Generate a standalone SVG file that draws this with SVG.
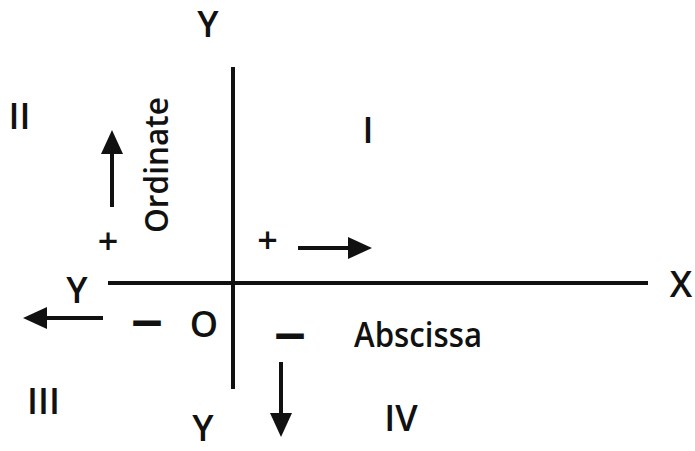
<svg xmlns="http://www.w3.org/2000/svg" width="695" height="451" viewBox="0 0 695 451">
<style>
.t{font-family:"Open Sans","DejaVu Sans",sans-serif;font-size:36px;font-weight:600;fill:#111;text-anchor:middle}
.w{font-family:"Open Sans","DejaVu Sans",sans-serif;font-weight:600;fill:#111}
.ax{stroke:#111;stroke-width:4;fill:none}
.ar{stroke:#111;stroke-width:4;fill:none;marker-end:url(#ah)}
</style>
<defs>
<marker id="ah" markerUnits="userSpaceOnUse" markerWidth="24" markerHeight="22" refX="4" refY="11" orient="auto">
<path d="M0,0 L24,11 L0,22 z" fill="#111"/>
</marker>
</defs>
<rect width="695" height="451" fill="#fff"/>
<g id="axes" class="connectors">
<line class="ax" x1="108" y1="283" x2="648" y2="283"/>
<line class="ax" x1="233" y1="67" x2="233" y2="389"/>
</g>
<g id="arrows">
<line class="ar" x1="103" y1="318" x2="43" y2="318"/>
<line class="ar" x1="112" y1="207" x2="112" y2="150"/>
<line class="ar" x1="298" y1="248" x2="352" y2="248"/>
<line class="ar" x1="281" y1="362" x2="281" y2="417"/>
</g>
<g id="label-y-top"><text class="t" x="208" y="37">Y</text></g>
<g id="label-y-left"><text class="t" x="77" y="303">Y</text></g>
<g id="label-y-bottom"><text class="t" x="203" y="441">Y</text></g>
<g id="label-x"><text class="t" x="681" y="297">X</text></g>
<g id="label-origin"><text class="t" x="204" y="337">O</text></g>
<g id="quadrant-1"><text class="t" x="368" y="143">I</text></g>
<g id="quadrant-2"><text class="t" x="19.5" y="129">II</text></g>
<g id="quadrant-3"><text class="t" x="43.5" y="414">III</text></g>
<g id="quadrant-4"><text class="t" x="401" y="431">IV</text></g>
<g id="ordinate"><text class="w" font-size="33" transform="translate(168,233) rotate(-90)" textLength="136" lengthAdjust="spacingAndGlyphs">Ordinate</text></g>
<g id="abscissa"><text class="w" font-size="35" x="354" y="347" textLength="128" lengthAdjust="spacingAndGlyphs">Abscissa</text></g>
<g id="plus-left"><text class="t" font-size="22" font-weight="bold" x="108" y="254">+</text></g>
<g id="plus-right"><text class="t" font-size="22" font-weight="bold" x="267.5" y="253">+</text></g>
<g id="minus-left"><text class="w" font-size="60" font-weight="bold" x="132" y="339" textLength="30" lengthAdjust="spacingAndGlyphs">—</text></g>
<g id="minus-right"><text class="w" font-size="60" font-weight="bold" x="275" y="351.5" textLength="30" lengthAdjust="spacingAndGlyphs">—</text></g>
</svg>
